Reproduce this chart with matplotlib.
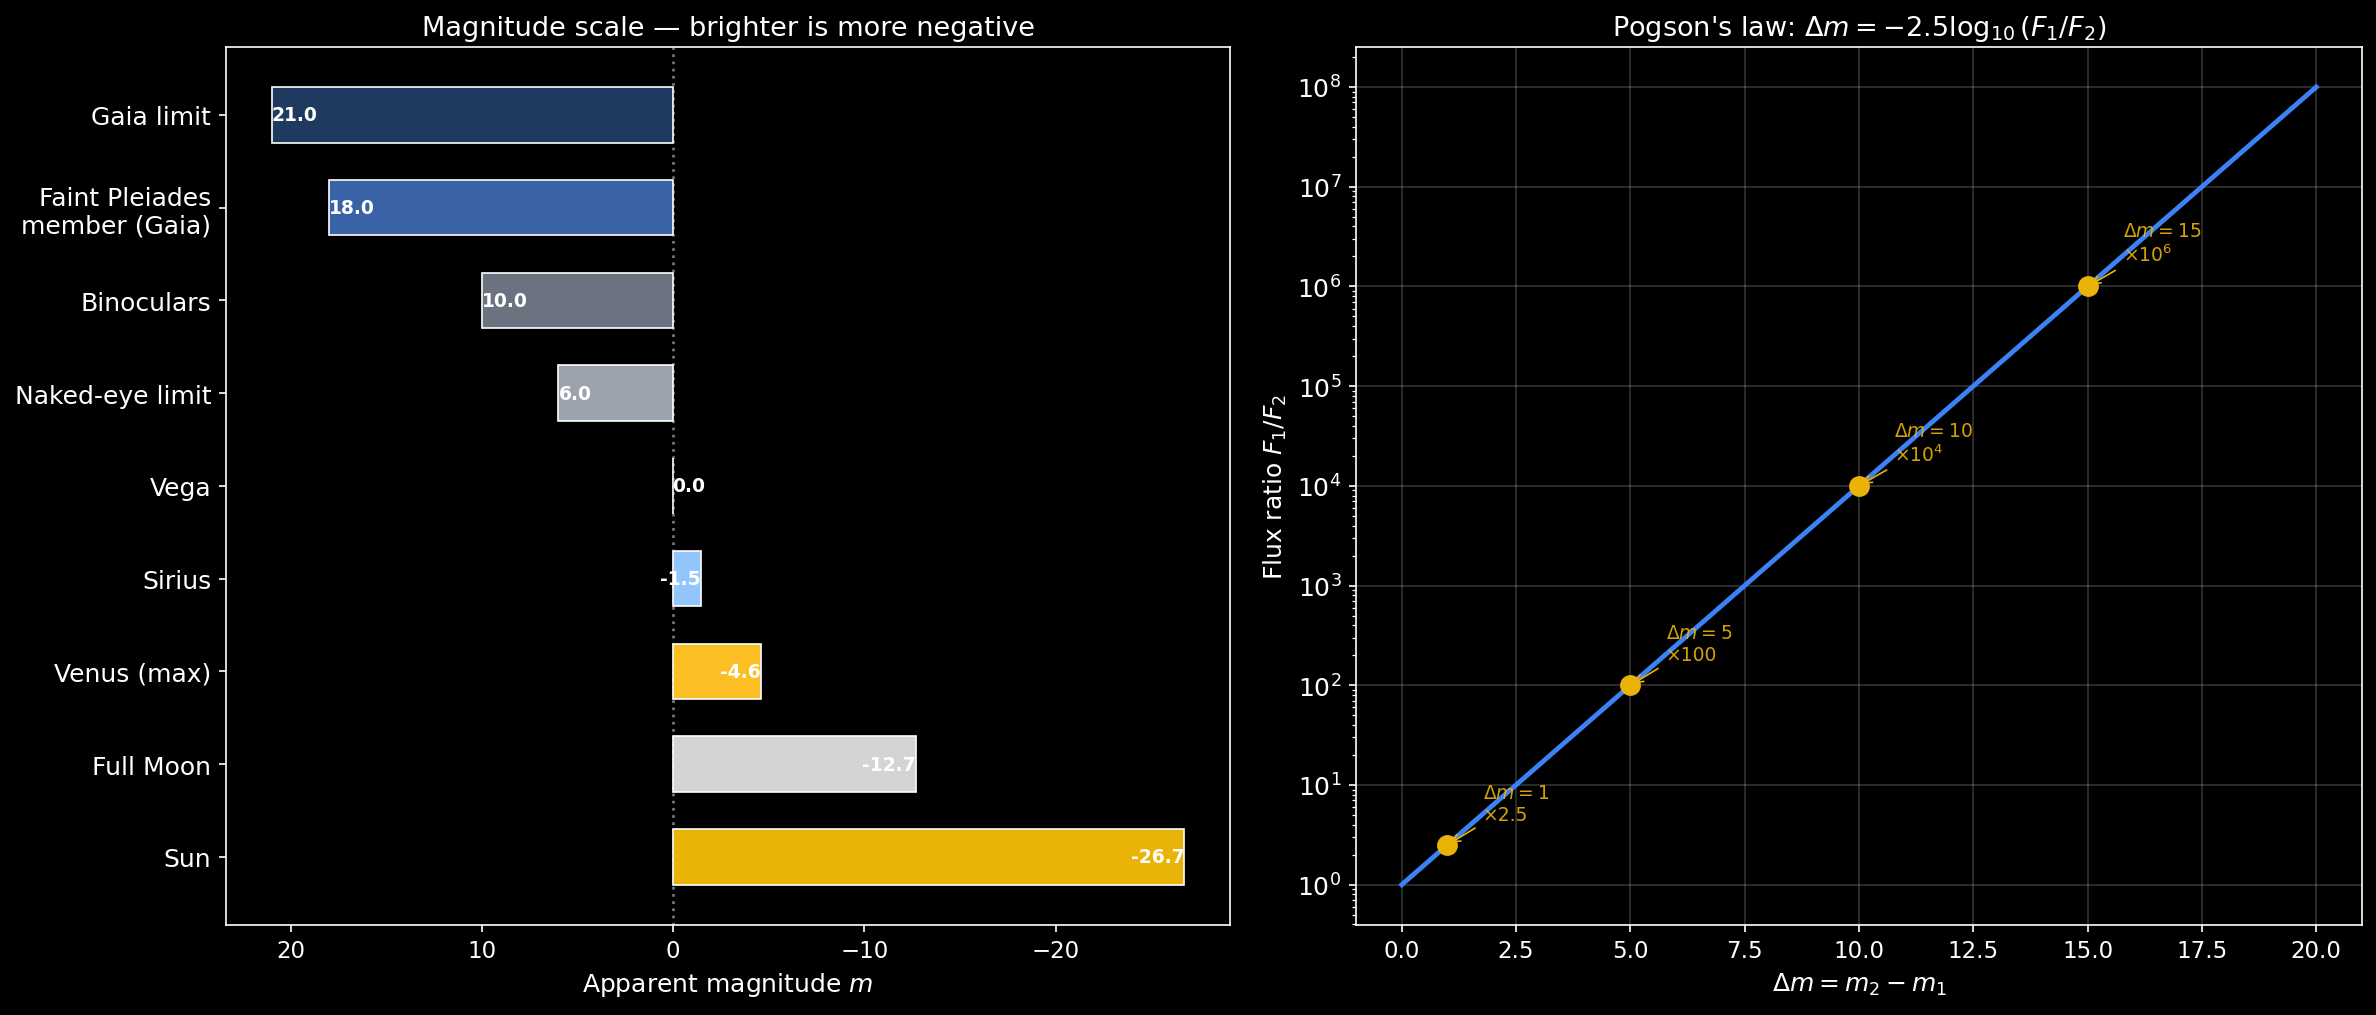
import numpy as np
import matplotlib.pyplot as plt

plt.style.use("dark_background")
plt.rcParams["font.size"] = 12

# left panel data (brightest first -> bottom row)
objects = ["Sun", "Full Moon", "Venus (max)", "Sirius", "Vega",
           "Naked-eye limit", "Binoculars", "Faint Pleiades\nmember (Gaia)", "Gaia limit"]
mags = [-26.74, -12.7, -4.6, -1.46, 0.03, 6.0, 10.0, 18.0, 21.0]
bar_colors = ["#eab308", "#d4d4d4", "#fbbf24", "#93c5fd", "#ffffff",
              "#9ca3af", "#6b7280", "#3a62a6", "#1f3a5f"]

# right panel data
dm = np.linspace(0, 20, 201)
marked_dm = [1, 5, 10, 15]
marked_txt = ["$\\Delta m = 1$\n×2.5", "$\\Delta m = 5$\n×100",
              "$\\Delta m = 10$\n×$10^4$", "$\\Delta m = 15$\n×$10^6$"]

gold = "#eab308"
blue = "#3b82f6"

fig = plt.figure(figsize=(15.84, 6.773), dpi=150)
ax1 = fig.add_axes([0.0951, 0.089, 0.4226, 0.8637])
ax2 = fig.add_axes([0.5707, 0.089, 0.4234, 0.8637])

# --- magnitude bars
y = np.arange(len(objects))
ax1.axvline(0, color="#777777", linestyle=":", linewidth=1.3, zorder=0)
ax1.barh(y, mags, height=0.6, color=bar_colors, edgecolor="white", linewidth=0.8, zorder=2)
for yi, m in zip(y, mags):
    ha = "left" if m >= 0 else "right"
    ax1.text(m, yi, f"{m:.1f}", ha=ha, va="center", color="white",
             fontsize=9, fontweight="bold", zorder=3)
ax1.set_yticks(y)
ax1.set_yticklabels(objects, fontsize=12)
ax1.invert_xaxis()
ax1.tick_params(axis="x", labelsize=11)
ax1.set_xlabel("Apparent magnitude $m$")
ax1.set_title("Magnitude scale — brighter is more negative", fontsize=13)

# --- Pogson's law
ax2.semilogy(dm, 10 ** (0.4 * dm), color=blue, linewidth=2.3, zorder=2)
for d, txt in zip(marked_dm, marked_txt):
    r = 10 ** (0.4 * d)
    ax2.plot(d, r, "o", color=gold, markersize=9, zorder=3)
    ax2.annotate(txt, xy=(d, r), xytext=(17, 12), textcoords="offset points",
                 fontsize=9, color=gold, alpha=0.9,
                 arrowprops=dict(arrowstyle="->", color=gold, lw=0.8))
ax2.grid(True, color="white", alpha=0.2, linewidth=0.8)
ax2.tick_params(axis="x", labelsize=11)
ax2.tick_params(axis="y", labelsize=12)
ax2.set_xlabel("$\\Delta m = m_2 - m_1$")
ax2.set_ylabel("Flux ratio $F_1/F_2$")
ax2.set_title("Pogson's law: $\\Delta m = -2.5\\log_{10}(F_1/F_2)$", fontsize=13)

plt.savefig("out.png", dpi=150)
